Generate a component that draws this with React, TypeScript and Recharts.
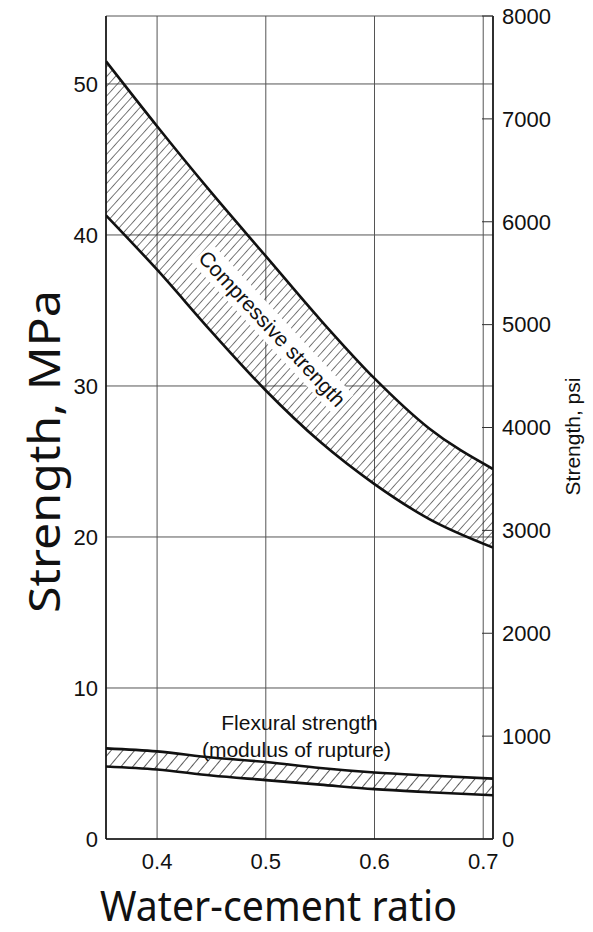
import React from 'react';
import { ComposedChart, Area, Line, XAxis, YAxis, CartesianGrid, ReferenceDot } from 'recharts';

const ratios = [0.353, 0.4, 0.45, 0.5, 0.55, 0.6, 0.65, 0.709];
const compressiveHigh = [51.5, 47.2, 42.8, 38.6, 34.4, 30.5, 27.2, 24.5];
const compressiveLow = [41.3, 37.7, 33.6, 29.7, 26.3, 23.5, 21.2, 19.3];
const flexuralHigh = [6.0, 5.8, 5.4, 5.1, 4.7, 4.4, 4.2, 4.0];
const flexuralLow = [4.8, 4.6, 4.2, 3.9, 3.6, 3.3, 3.1, 2.9];
const xTicks = [0.4, 0.5, 0.6, 0.7];
const mpaTicks = [0, 10, 20, 30, 40, 50];
const psiTicks = [0, 1000, 2000, 3000, 4000, 5000, 6000, 7000, 8000];
const PSI_PER_MPA = 145.038;

const data = ratios.map((r, i) => ({
  r,
  compHigh: compressiveHigh[i],
  compLow: compressiveLow[i],
  flexHigh: flexuralHigh[i],
  flexLow: flexuralLow[i],
  compBand: [compressiveLow[i], compressiveHigh[i]],
  flexBand: [flexuralLow[i], flexuralHigh[i]],
  compHighPsi: compressiveHigh[i] * PSI_PER_MPA,
}));

const FONT = 'Liberation Sans, Arial, sans-serif';
const TICK_SIZE = 22;

const BottomTick = (p: any) => (
  <text x={p.x} y={p.y} dy="0.71em" textAnchor="middle" fontSize={TICK_SIZE} fontFamily={FONT} fill="#111">
    {p.payload.value}
  </text>
);
const LeftTick = (p: any) => (
  <text x={p.x} y={p.y} dy="0.355em" textAnchor="end" fontSize={TICK_SIZE} fontFamily={FONT} fill="#111">
    {p.payload.value}
  </text>
);
const RightTick = (p: any) => (
  <text x={p.x} y={p.y} dy="0.355em" textAnchor="start" fontSize={TICK_SIZE} fontFamily={FONT} fill="#111">
    {p.payload.value}
  </text>
);

const CompLabel = (props: any) => {
  const { cx, cy } = props;
  return (
    <g transform={`rotate(47 ${cx} ${cy})`}>
      <rect x={cx - 104} y={cy - 14} width={208} height={28} fill="#fff" />
      <text x={cx} y={cy + 7.5} textAnchor="middle" fontSize={21} fontFamily={FONT} fill="#111">
        Compressive strength
      </text>
    </g>
  );
};

const FlexLabel = (props: any) => {
  const { cx, cy } = props;
  return (
    <g>
      <text x={cx} y={cy} textAnchor="middle" fontSize={21} fontFamily={FONT} fill="#111">
        Flexural strength
      </text>
      <text x={cx - 3} y={cy + 27} textAnchor="middle" fontSize={21} fontFamily={FONT} fill="#111">
        (modulus of rupture)
      </text>
    </g>
  );
};

const LeftTitle = (props: any) => {
  const vb = props.viewBox || { x: 0, y: 16, width: 106, height: 823 };
  const x = vb.x + 60;
  const y = vb.y + vb.height / 2 + 24;
  return (
    <text x={x} y={y} transform={`rotate(-90 ${x} ${y})`} textAnchor="middle" fontSize={44}
      fontFamily="Noto Sans, sans-serif" fill="#111" textLength={323} lengthAdjust="spacingAndGlyphs">
      Strength, MPa
    </text>
  );
};

const RightTitle = (props: any) => {
  const vb = props.viewBox || { x: 493, y: 16, width: 100, height: 823 };
  const x = vb.x + 87;
  const y = vb.y + vb.height / 2 + 9;
  return (
    <text x={x} y={y} transform={`rotate(-90 ${x} ${y})`} textAnchor="middle" fontSize={21}
      fontFamily={FONT} fill="#111">
      Strength, psi
    </text>
  );
};

const BottomTitle = (props: any) => {
  const vb = props.viewBox || { x: 106, y: 839, width: 387, height: 93 };
  const x = vb.x + vb.width / 2 - 21;
  const y = vb.y + 82;
  return (
    <text x={x} y={y} textAnchor="middle" fontSize={42} fontFamily="Noto Sans, sans-serif" fill="#111"
      textLength={357} lengthAdjust="spacingAndGlyphs">
      Water-cement ratio
    </text>
  );
};

export default function App() {
  return (
    <div style={{ position: 'absolute', left: 0, top: 0, width: 593, height: 932, background: '#fff' }}>
      <ComposedChart width={593} height={932} data={data} margin={{ top: 16, right: 0, bottom: 0, left: 0 }}>
        <defs>
          <pattern id="hatchComp" width="6.5" height="6.5" patternUnits="userSpaceOnUse" patternTransform="rotate(42)">
            <line x1="0" y1="0" x2="0" y2="6.5" stroke="#222" strokeWidth="1.2" />
          </pattern>
          <pattern id="hatchFlex" width="9" height="9" patternUnits="userSpaceOnUse" patternTransform="rotate(40)">
            <line x1="0" y1="0" x2="0" y2="9" stroke="#222" strokeWidth="1.5" />
          </pattern>
        </defs>
        <CartesianGrid stroke="#555" strokeWidth={1} horizontal vertical />
        <XAxis dataKey="r" type="number" domain={[0.353, 0.709]} ticks={xTicks} allowDataOverflow
          height={93} tickLine={false} tickSize={6} tickMargin={8} tick={<BottomTick />}
          axisLine={{ stroke: '#111', strokeWidth: 1.6 }} label={<BottomTitle />} />
        <XAxis xAxisId="top" orientation="top" dataKey="r" type="number" domain={[0.353, 0.709]} height={0}
          tick={false} tickLine={false} axisLine={{ stroke: '#111', strokeWidth: 1.6 }} />
        <YAxis type="number" domain={[0, 54.5]} ticks={mpaTicks} allowDataOverflow width={106}
          tickLine={false} tickSize={6} tickMargin={2} tick={<LeftTick />}
          axisLine={{ stroke: '#111', strokeWidth: 1.6 }} label={<LeftTitle />} />
        <YAxis yAxisId="psi" orientation="right" type="number" domain={[0, 8000]} ticks={psiTicks} width={100}
          allowDataOverflow tickSize={-11} tickMargin={20} tickLine={{ stroke: '#333', strokeWidth: 1 }} tick={<RightTick />}
          axisLine={{ stroke: '#111', strokeWidth: 1.6 }} label={<RightTitle />} />
        <Line yAxisId="psi" dataKey="compHighPsi" type="monotone" stroke="none" dot={false} activeDot={false}
          isAnimationActive={false} />
        <Area dataKey="compBand" type="monotone" stroke="none" fill="url(#hatchComp)" fillOpacity={1} isAnimationActive={false} />
        <Area dataKey="flexBand" type="monotone" stroke="none" fill="url(#hatchFlex)" fillOpacity={1} isAnimationActive={false} />
        <ReferenceDot x={0.506} y={33.8} r={0} shape={<CompLabel />} ifOverflow="visible" />
        <ReferenceDot x={0.531} y={7.2} r={0} shape={<FlexLabel />} ifOverflow="visible" />
        <Line dataKey="compHigh" type="monotone" stroke="#111" strokeWidth={2.6} dot={false} isAnimationActive={false} />
        <Line dataKey="compLow" type="monotone" stroke="#111" strokeWidth={2.6} dot={false} isAnimationActive={false} />
        <Line dataKey="flexHigh" type="monotone" stroke="#111" strokeWidth={2.6} dot={false} isAnimationActive={false} />
        <Line dataKey="flexLow" type="monotone" stroke="#111" strokeWidth={2.6} dot={false} isAnimationActive={false} />
      </ComposedChart>
    </div>
  );
}
